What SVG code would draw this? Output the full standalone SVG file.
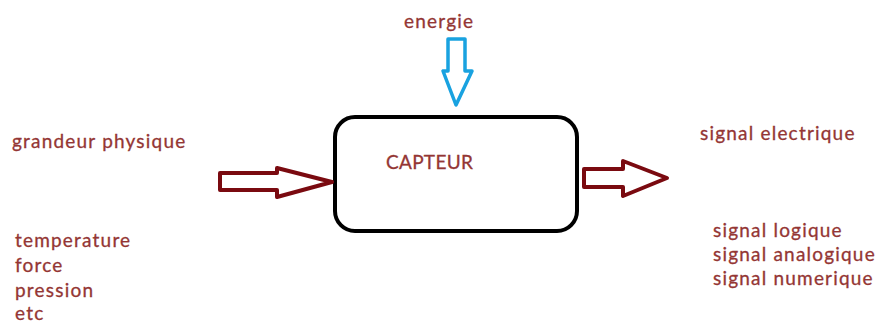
<svg xmlns="http://www.w3.org/2000/svg" width="877" height="324" viewBox="0 0 877 324">
  <style>
    .lbl { font-family: Lato, "Open Sans", "Liberation Sans", sans-serif; font-size: 19px; letter-spacing: 1.2px; fill: #943634; stroke: #943634; stroke-width: 0.3; }
    .red { fill: #fff; stroke: #7a0a10; stroke-width: 4; stroke-linejoin: round; }
    .blue { fill: #fff; stroke: #19a2e0; stroke-width: 3.5; stroke-linejoin: round; }
  </style>
  <rect width="877" height="324" fill="#fff"/>

  <g id="capteur">
    <rect x="335" y="117" width="242" height="114" rx="20" fill="#fff" stroke="#000" stroke-width="4"/>
    <text class="lbl" x="386" y="169" style="letter-spacing:0.3px">CAPTEUR</text>
  </g>

  <g id="energie">
    <text class="lbl" x="404" y="28">energie</text>
  </g>

  <g id="grandeur">
    <text class="lbl" x="12" y="148">grandeur physique</text>
    <text class="lbl" x="15" y="247">temperature</text>
    <text class="lbl" x="15" y="272">force</text>
    <text class="lbl" x="15" y="297">pression</text>
    <text class="lbl" x="15" y="320">etc</text>
  </g>

  <g id="signal">
    <text class="lbl" x="700" y="140">signal electrique</text>
    <text class="lbl" x="713" y="237">signal logique</text>
    <text class="lbl" x="713" y="261">signal analogique</text>
    <text class="lbl" x="713" y="285">signal numerique</text>
  </g>

  <g id="connectors">
    <!-- energy input -->
    <path class="blue" d="M448 39 H465 V71 H472 L456 105 L443 71 H448 Z"/>
    <!-- physical quantity input -->
    <path class="red" d="M220 173 H277 V168 L332 182 L277 197 V190 H220 Z"/>
    <!-- electrical signal output -->
    <path class="red" d="M584 169 H623 V161 L667 178 L623 196 V187 H584 Z"/>
  </g>
</svg>
